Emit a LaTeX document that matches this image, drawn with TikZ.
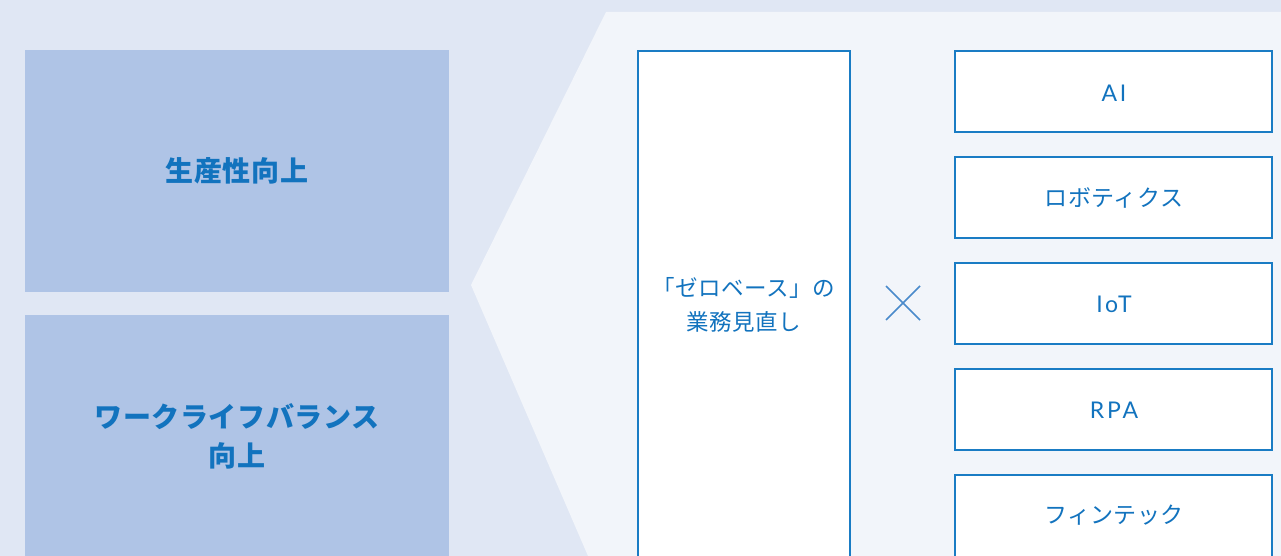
\documentclass[tikz,border=0pt]{standalone}
\usepackage{fontspec}
\setmainfont{Noto Sans CJK JP}
\newfontfamily\cjk{Noto Sans CJK JP}
\newfontfamily\latn[LetterSpace=12]{Lato}
\definecolor{bgA}{RGB}{224,231,244}
\definecolor{bgB}{RGB}{242,245,250}
\definecolor{leftbox}{RGB}{175,196,230}
\definecolor{txt}{RGB}{18,115,190}
\definecolor{edge}{RGB}{26,124,196}
\definecolor{cross}{RGB}{74,138,203}
\tikzset{
  midb/.style={fill=white, draw=edge, line width=1.4pt},
  techbox/.style={fill=white, draw=edge, line width=1.4pt, minimum width=317pt, minimum height=81pt, inner sep=0pt, text=txt, font=\cjk\fontsize{23}{28}\selectfont},
  techtext/.style={text=txt, font=\cjk\addfontfeatures{LetterSpace=2}\fontsize{23}{28}\selectfont, inner sep=0pt},
  latntext/.style={text=txt, font=\latn\fontsize{23}{28}\selectfont, inner sep=0pt},
  lefttext/.style={text=txt, font=\cjk\bfseries\addfontfeatures{LetterSpace=2}\fontsize{28}{39}\selectfont, align=center},
  midtext/.style={text=txt, font=\cjk\addfontfeatures{LetterSpace=2}\fontsize{22.5}{34}\selectfont, align=center},
}
\begin{document}
\begin{tikzpicture}[x=1pt,y=-1pt]
\useasboundingbox (0,0) rectangle (1281,556);
\fill[bgA] (0,0) rectangle (1281,556);
\fill[bgB] (606,12) -- (1281,12) -- (1281,556) -- (588,556) -- (471,285) -- cycle;
% left boxes
\fill[leftbox] (25,50) rectangle (449,292);
\fill[leftbox] (25,315) rectangle (449,556);
\node[lefttext] (prod) at (237,171) {生産性向上};
\node[lefttext] (wlb) at (237,436) {ワークライフバランス\\向上};
% middle box
\draw[midb] (638,51) rectangle (850,560);
\node[midtext] (zero) at (744,305) {「ゼロベース」の\\業務見直し};
% cross
\draw[cross, line width=1.7pt] (886,286) -- (920,320) (920,286) -- (886,320);
% right boxes
\node[techbox] (ai) at (1113.5,91.5) {};
\node[techbox] (rob) at (1113.5,197.5) {};
\node[techbox] (iot) at (1113.5,303.5) {};
\node[techbox] (rpa) at (1113.5,409.5) {};
\node[techbox, minimum height=90pt] (fin) at (1113.5,520) {};
\node[latntext] (ait) at (1114,93) {AI};
\node[techtext] (robt) at (1114,198) {ロボティクス};
\node[latntext] (iott) at (1114,304) {IoT};
\node[latntext] (rpat) at (1114,410) {RPA};
\node[techtext] (fint) at (1114,515) {フィンテック};
\end{tikzpicture}
\end{document}
